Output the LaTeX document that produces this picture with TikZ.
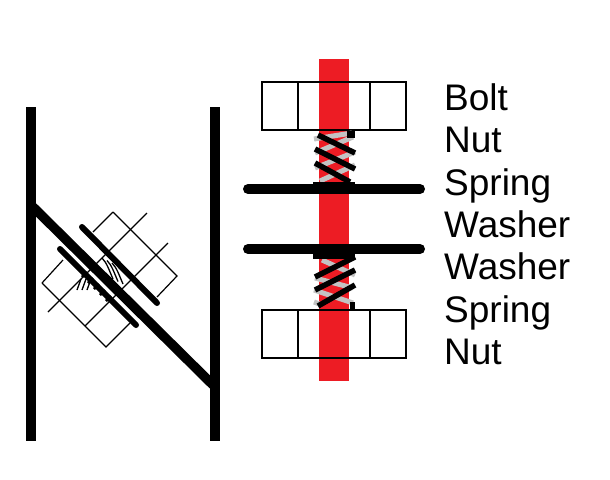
\documentclass[tikz,border=0pt]{standalone}
\usepackage{fontspec}
\setmainfont{Liberation Sans}
\definecolor{boltred}{RGB}{237,28,36}
\definecolor{springgray}{RGB}{195,195,195}
\tikzset{
  frame/.style={line width=10pt},
  plate/.style={line width=10pt,line cap=round},
  smallplate/.style={line width=6pt,line cap=round},
  headline/.style={line width=1.7pt},
  thinline/.style={line width=1.2pt},
  coilblack/.style={line width=5.5pt},
  coilgray/.style={line width=5pt,springgray},
  wiggle/.style={line width=1.3pt},
  partname/.style={font=\fontsize{37}{37}\selectfont,anchor=base west,inner sep=0pt}
}
\begin{document}
\begin{tikzpicture}[x=1pt,y=-1pt]
\useasboundingbox (0,0) rectangle (610,479);
\fill[white] (0,0) rectangle (610,479);
% tilted joint
\draw[frame] (31,107) -- (31,441);
\draw[frame] (215,107) -- (215,441);
\draw[line width=9.5pt] (31,205) -- (213,385);
\draw[thinline] (113,212) -- (177,276) -- (157,297);
\draw[thinline] (113,212) -- (93,232);
\draw[thinline] (42,283) -- (106,347) -- (130,323);
\draw[thinline] (42,283) -- (63,260);
\draw[thinline] (147,213) -- (48,312);
\draw[thinline] (168,243) -- (85,326);
\draw[smallplate] (82,227) -- (157,303);
\draw[smallplate] (60,249) -- (136,325);
\foreach \x in {0,5,10}
  \draw[wiggle] (102+\x,258+\x/2) .. controls (107+\x,263+\x/2) and (109+\x,270+\x/2) .. (113+\x,279+\x/2);
\foreach \x in {0,6,12,18,24}
  \draw[line width=2.5pt] (82+\x,277+\x) -- (87+\x,272+\x);
\foreach \x in {0,5,10}
  \draw[wiggle] (77+\x,290) -- (81+\x,279);
% straight joint
\fill[boltred] (319,59) rectangle (349,381);
\foreach \y in {82,310} {
  \draw[headline] (262,\y) rectangle (406,\y+48);
  \draw[headline] (298,\y) -- (298,\y+48);
  \draw[headline] (370,\y) -- (370,\y+48);
}
\foreach \a/\b/\c/\d in {314/139/352/133,315/153/353/137,315/168/355/152,320/181/355/165}
  \draw[coilgray] (\a,\b) -- (\c,\d);
\foreach \a/\b/\c/\d in {318/135/355/153,315/149/355/169,315/163/350/182}
  \draw[coilblack] (\a,\b) -- (\c,\d);
\fill (347,131) rectangle (355,138);
\fill (313,182) rectangle (355,186);
\foreach \a/\b/\c/\d in {322/260/355/275,315/278/353/288,314/290/353/303,314/302/322/305}
  \draw[coilgray] (\a,\b) -- (\c,\d);
\foreach \a/\b/\c/\d in {315/277/355/257,315/290/355/270,318/306/355/285}
  \draw[coilblack] (\a,\b) -- (\c,\d);
\fill (313,253) rectangle (355,259);
\fill (350,302) rectangle (355,309);
\draw[plate] (248,189) -- (420,189);
\draw[plate] (248,249) -- (420,249);
% part names
\node[partname] (bolt) at (444,110) {Bolt};
\node[partname] (topnut) at (444,152) {Nut};
\node[partname] (topspring) at (444,195) {Spring};
\node[partname] (topwasher) at (444,237) {Washer};
\node[partname] (lowwasher) at (444,279) {Washer};
\node[partname] (lowspring) at (444,322) {Spring};
\node[partname] (lownut) at (444,364) {Nut};
\end{tikzpicture}
\end{document}
